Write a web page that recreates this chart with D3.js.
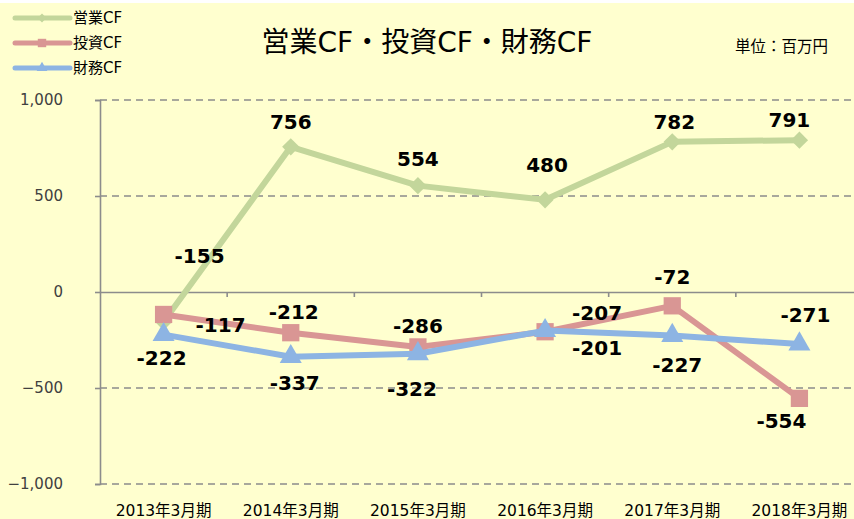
<!DOCTYPE html>
<html>
<head>
<meta charset="utf-8">
<script src="https://cdn.jsdelivr.net/npm/d3@7"></script>
<style>
body { margin: 0; background: #fff; }
svg { display: block; }
text { font-family: "DejaVu Sans", "Noto Sans CJK JP", sans-serif; }
</style>
</head>
<body>
<svg width="854" height="519"></svg>
<script>
// data
var categories = ["2013年3月期", "2014年3月期", "2015年3月期", "2016年3月期", "2017年3月期", "2018年3月期"];
var seriesNames = ["営業CF", "投資CF", "財務CF"];
var eigyo = [-155, 756, 554, 480, 782, 791];
var toushi = [-117, -212, -286, -207, -72, -554];
var zaimu = [-222, -337, -322, -201, -227, -271];
var yTicks = [1000, 500, 0, -500, -1000];

// label placement (offset from point)
var eigyoLbl = [[36, -66], [0, -25], [0, -27], [2, -35], [2, -20], [-10, -20]];
var toushiLbl = [[57, 10], [3, -21], [0, -21], [52, -19], [0, -29], [-18, 22]];
var zaimuLbl = [[-2, 23], [4, 26], [-6, 35], [52, 17], [5, 29], [6, -29]];

var colors = ["#c3d69b", "#d99694", "#8db4e3"];

var svg = d3.select("svg");

svg.append("rect")
    .attr("x", 0).attr("y", 3)
    .attr("width", 854).attr("height", 516)
    .attr("fill", "#ffffcf");

var x = d3.scaleBand().domain(categories).range([100, 863]);
var y = d3.scaleLinear().domain([-1000, 1000]).range([484, 100]);
var cx = function(d, i) { return x(categories[i]) + x.bandwidth() / 2; };

// gridlines
svg.selectAll(".grid")
    .data(yTicks.filter(function(d) { return d != 0; }))
    .enter().append("line")
    .attr("x1", 100).attr("x2", 863)
    .attr("y1", function(d) { return y(d); })
    .attr("y2", function(d) { return y(d); })
    .attr("stroke", "#8c8c8c")
    .attr("stroke-width", 1.6)
    .attr("stroke-dasharray", "7,5");

// y axis
var yAxis = d3.axisLeft(y).tickValues(yTicks).tickSize(5)
    .tickFormat(d3.format(","));
var gy = svg.append("g").attr("transform", "translate(100,0)").call(yAxis);
gy.select(".domain").attr("stroke", "#8c8c8c").attr("stroke-width", 1.6);
gy.selectAll(".tick line").attr("stroke", "#8c8c8c").attr("stroke-width", 1.6);
gy.selectAll(".tick text")
    .attr("x", -37)
    .attr("fill", "#404040")
    .style("font-size", "15px");

// zero line with category ticks
var xAxis = d3.axisBottom(x).tickSize(0).tickFormat("");
var gx = svg.append("g").attr("transform", "translate(0," + y(0) + ")").call(xAxis);
gx.select(".domain").attr("stroke", "#8c8c8c").attr("stroke-width", 1.6);
gx.selectAll(".bound")
    .data(categories.slice(1))
    .enter().append("line")
    .attr("class", "bound")
    .attr("x1", function(d) { return x(d); })
    .attr("x2", function(d) { return x(d); })
    .attr("y1", 0).attr("y2", 5)
    .attr("stroke", "#8c8c8c").attr("stroke-width", 1.6);

// category labels
svg.selectAll(".cat")
    .data(categories)
    .enter().append("text")
    .attr("x", function(d) { return x(d) + x.bandwidth() / 2; })
    .attr("y", 511)
    .attr("dy", "0.35em")
    .attr("text-anchor", "middle")
    .style("font-size", "15.5px")
    .attr("fill", "#000")
    .text(function(d) { return d; });

var line = d3.line()
    .x(cx)
    .y(function(d) { return y(d); });

var allSeries = [eigyo, toushi, zaimu];
var allLbl = [eigyoLbl, toushiLbl, zaimuLbl];

var symbols = [
    d3.symbol().type(d3.symbolDiamond2).size(190),
    d3.symbol().type(d3.symbolSquare2).size(380),
    d3.symbol().type(d3.symbolTriangle).size(210)
];

allSeries.forEach(function(vals, s) {
    var g = svg.append("g");
    g.append("path")
        .datum(vals)
        .attr("d", line)
        .attr("fill", "none")
        .attr("stroke", colors[s])
        .attr("stroke-width", 6)
        .attr("stroke-linejoin", "round");
    g.selectAll("path.mk")
        .data(vals)
        .enter().append("path")
        .attr("class", "mk")
        .attr("d", symbols[s])
        .attr("fill", colors[s])
        .attr("transform", function(d, i) {
            return "translate(" + cx(d, i) + "," + y(d) + ")";
        });
});

// data labels on top
allSeries.forEach(function(vals, s) {
    svg.selectAll(".lbl" + s)
        .data(vals)
        .enter().append("text")
        .attr("x", function(d, i) { return cx(d, i) + allLbl[s][i][0]; })
        .attr("y", function(d, i) { return y(d) + allLbl[s][i][1]; })
        .attr("dy", "0.36em")
        .attr("text-anchor", "middle")
        .style("font-size", "20px")
        .style("font-weight", "bold")
        .attr("fill", "#000")
        .text(function(d) { return d; });
});

// title + unit
svg.append("text")
    .attr("x", 427).attr("y", 42)
    .attr("dy", "0.35em")
    .attr("text-anchor", "middle")
    .style("font-size", "28px")
    .attr("fill", "#000")
    .text("営業CF・投資CF・財務CF");

svg.append("text")
    .attr("x", 735).attr("y", 47)
    .attr("dy", "0.35em")
    .style("font-size", "15.5px")
    .attr("fill", "#000")
    .text("単位：百万円");

// legend
var legSym = [
    d3.symbol().type(d3.symbolDiamond2).size(50),
    d3.symbol().type(d3.symbolSquare2).size(90),
    d3.symbol().type(d3.symbolTriangle).size(50)
];
var leg = svg.selectAll(".leg")
    .data(seriesNames)
    .enter().append("g")
    .attr("transform", function(d, i) { return "translate(0," + (18 + i * 25) + ")"; });
leg.append("line")
    .attr("x1", 15).attr("x2", 70)
    .attr("stroke", function(d, i) { return colors[i]; })
    .attr("stroke-width", 5)
    .attr("stroke-linecap", "round");
leg.append("path")
    .attr("d", function(d, i) { return legSym[i](); })
    .attr("transform", "translate(42,0)")
    .attr("fill", function(d, i) { return colors[i]; });
leg.append("text")
    .attr("x", 73)
    .attr("dy", "0.35em")
    .style("font-size", "15px")
    .attr("fill", "#000")
    .text(function(d) { return d; });
</script>
</body>
</html>
